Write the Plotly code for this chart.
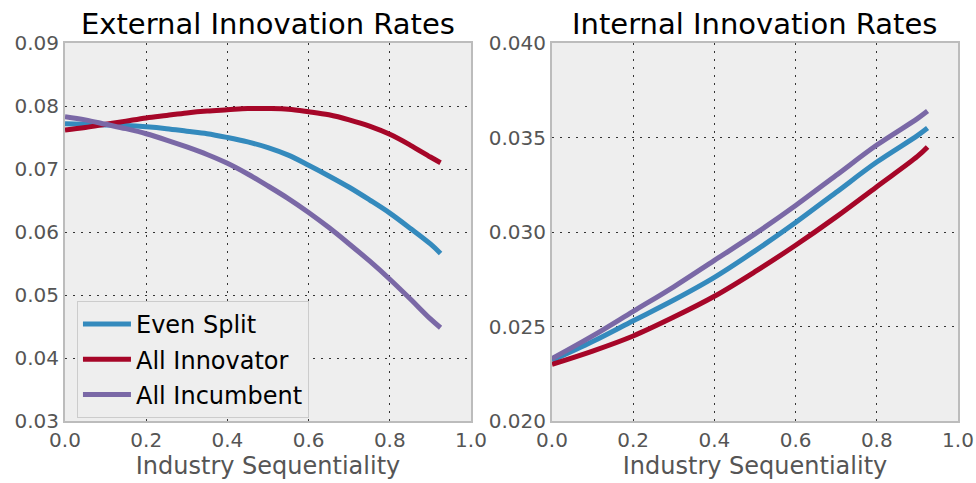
import plotly.graph_objects as go
from plotly.subplots import make_subplots

x_ext = [0, 0.05, 0.1, 0.15, 0.2, 0.25, 0.3, 0.35, 0.4, 0.45, 0.5, 0.55, 0.6, 0.65, 0.7, 0.75, 0.8, 0.85, 0.9, 0.925]
ext_even = [0.0772, 0.0771, 0.0770, 0.0769, 0.0767, 0.0764, 0.0760, 0.0756, 0.0750, 0.0743, 0.0734, 0.0722, 0.0706, 0.0689, 0.0671, 0.0651, 0.0630, 0.0606, 0.0581, 0.0566]
ext_innov = [0.0762, 0.0766, 0.0771, 0.0776, 0.0781, 0.0785, 0.0789, 0.0792, 0.0794, 0.0796, 0.0796, 0.0795, 0.0791, 0.0786, 0.0778, 0.0768, 0.0755, 0.0738, 0.0719, 0.0710]
ext_incum = [0.0783, 0.0778, 0.0771, 0.0764, 0.0756, 0.0746, 0.0735, 0.0723, 0.0709, 0.0692, 0.0673, 0.0653, 0.0631, 0.0607, 0.0581, 0.0554, 0.0525, 0.0494, 0.0462, 0.0448]

x_int = [0, 0.1, 0.2, 0.3, 0.4, 0.5, 0.6, 0.7, 0.8, 0.9, 0.925]
int_even = [0.0232, 0.0242, 0.0253, 0.0264, 0.0276, 0.0290, 0.0305, 0.0321, 0.0337, 0.0351, 0.0355]
int_innov = [0.0230, 0.0237, 0.0245, 0.0255, 0.0266, 0.0279, 0.0293, 0.0308, 0.0324, 0.0340, 0.0345]
int_incum = [0.0233, 0.0245, 0.0258, 0.0271, 0.0285, 0.0299, 0.0314, 0.0330, 0.0346, 0.0360, 0.0364]

names = ["Even Split", "All Innovator", "All Incumbent"]
colors = ["#348ABD", "#A60628", "#7A68A6"]
titles = ["External Innovation Rates", "Internal Innovation Rates"]
x_ticks = [0.0, 0.2, 0.4, 0.6, 0.8, 1.0]

FONT = "DejaVu Sans"

fig = make_subplots(rows=1, cols=2, horizontal_spacing=0.0907)

for ys, nm, c in zip([ext_even, ext_innov, ext_incum], names, colors):
    fig.add_trace(go.Scatter(x=x_ext, y=ys, name=nm, mode="lines", line=dict(color=c, width=5, shape="spline"),
                             legendgroup=nm, showlegend=True), row=1, col=1)
for ys, nm, c in zip([int_even, int_innov, int_incum], names, colors):
    fig.add_trace(go.Scatter(x=x_int, y=ys, name=nm, mode="lines", line=dict(color=c, width=5, shape="spline"),
                             legendgroup=nm, showlegend=False), row=1, col=2)

axis_common = dict(showline=True, mirror=True, linecolor="#BCBCBC", linewidth=2,
                   showgrid=True, gridcolor="#333333", gridwidth=1.2, griddash="2px,6px",
                   zeroline=False, ticks="", automargin=False,
                   tickfont=dict(family=FONT, size=20, color="#555555"))

fig.update_xaxes(range=[0, 1], tickvals=x_ticks, tickformat=".1f",
                 title=dict(text="Industry Sequentiality", font=dict(family=FONT, size=24, color="#555555"), standoff=2),
                 **axis_common)
fig.update_yaxes(range=[0.03, 0.09], dtick=0.01, tick0=0.03, tickformat=".2f", row=1, col=1, **axis_common)
fig.update_yaxes(range=[0.02, 0.04], dtick=0.005, tick0=0.02, tickformat=".3f", row=1, col=2, **axis_common)

fig.update_layout(
    width=976, height=483,
    margin=dict(l=65, r=18, t=43, b=62),
    paper_bgcolor="white", plot_bgcolor="#EEEEEE",
    font=dict(family=FONT, color="#555555"),
    legend=dict(x=0.0134, y=0.3175, xanchor="left", yanchor="top",
                bgcolor="#EEEEEE", bordercolor="#CCCCCC", borderwidth=1,
                itemwidth=48,
                font=dict(family=FONT, size=24, color="black"), tracegroupgap=1),
)

for i, t in enumerate(titles):
    dom = fig.layout.xaxis.domain if i == 0 else fig.layout.xaxis2.domain
    fig.add_annotation(text=t, x=(dom[0] + dom[1]) / 2, xref="paper", xanchor="center",
                       y=1, yref="paper", yanchor="bottom", yshift=0, showarrow=False,
                       font=dict(family=FONT, size=29, color="black"))

fig.write_html("out.html", config={"displayModeBar": False},
               post_script="document.body.style.margin='0';")
